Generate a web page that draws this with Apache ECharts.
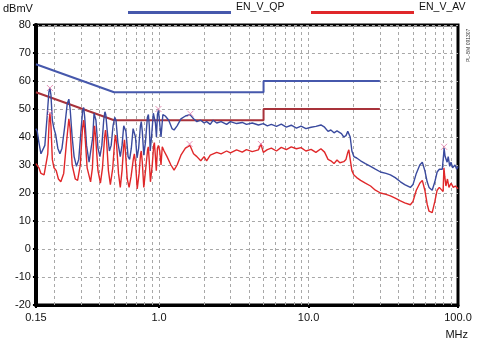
<!DOCTYPE html>
<html>
<head>
<meta charset="utf-8">
<script src="https://cdn.jsdelivr.net/npm/echarts@6/dist/echarts.min.js"></script>
<style>
    html, body { margin: 0; padding: 0; background: #fff; }
    #main { width: 477px; height: 351px; }
</style>
</head>
<body>
<div id="main"></div>
<script>
// 限值线 (EN, QP / AV)
var qpLimitFreq = [0.15, 0.5, 5, 5, 30]
var qpLimitLevel = [66, 56, 56, 60, 60]
var avLimitFreq = [0.15, 0.5, 5, 5, 30]
var avLimitLevel = [56, 46, 46, 50, 50]

// QP 测量曲线
var qpFreq = [0.150, 0.153, 0.157, 0.162, 0.167, 0.172, 0.178, 0.183, 0.186, 0.189, 0.193, 0.198, 0.203, 0.210, 0.217, 0.224,
    0.234, 0.243, 0.249, 0.254, 0.262, 0.270, 0.280, 0.290, 0.300, 0.308, 0.313, 0.318, 0.327, 0.340, 0.350, 0.360,
    0.367, 0.372, 0.378, 0.390, 0.402, 0.414, 0.426, 0.434, 0.440, 0.450, 0.465, 0.478, 0.492, 0.505, 0.515, 0.530,
    0.550, 0.565, 0.580, 0.590, 0.600, 0.620, 0.635, 0.652, 0.670, 0.682, 0.695, 0.712, 0.730, 0.750, 0.760, 0.772,
    0.790, 0.810, 0.835, 0.848, 0.860, 0.872, 0.890, 0.915, 0.930, 0.945, 0.960, 0.975, 0.990, 1.01, 1.03, 1.06,
    1.10, 1.16, 1.22, 1.26, 1.32, 1.40, 1.50, 1.61, 1.70, 1.79, 1.90, 2.00, 2.08, 2.20, 2.30, 2.43, 2.60, 2.83,
    3.0, 3.3, 3.6, 3.84, 4.2, 4.62, 4.98, 5.3, 5.64, 6.1, 6.57, 7.1, 7.66, 8.3, 8.91, 9.6, 10.4, 11.2, 12.1, 12.8,
    13.5, 14.1, 14.8, 15.5, 15.9, 16.6, 17.2, 17.8, 18.3, 18.6, 19.0, 19.5, 20.1, 21, 22.3, 24, 26, 28, 30.3, 33,
    35.3, 38, 41.2, 44, 48, 50, 52.6, 55.5, 57.7, 60, 62.2, 64, 67.2, 70, 72.5, 75, 77.1, 78.5, 80.2, 80.7,
    82, 84.6, 86, 88, 89.8, 92, 95.5, 98, 100]
var qpLevel = [43, 42, 38, 34, 33.5, 37, 47, 56, 57.5, 55, 46, 43, 41, 36, 34, 36,
    44, 52, 53.5, 50, 40, 33, 29.5, 32, 42, 49.5, 50.5, 47, 37, 31, 31, 40,
    48.5, 49, 46, 36, 33, 37, 46, 49, 48, 42, 35, 37, 44, 47, 46, 38,
    33, 37, 44, 44.5, 42, 33, 32, 36, 43, 43.5, 40, 32.5, 36, 44, 45.5, 42,
    33.5, 38, 47, 48, 44, 35, 40, 48.5, 49, 45, 40, 48, 49.5, 49, 40, 48,
    47.5, 46, 43, 42.5, 44, 46.5, 47.5, 48, 46.5, 45.5, 46, 45, 45.5, 44.5, 46, 45, 45.5, 44.5,
    45.5, 44.8, 45.2, 44.5, 45, 44.3, 44.8, 44, 44.5, 43.8, 44.6, 43.5, 44.2, 43.2, 43.9, 43, 43.5, 43.8, 44.3, 43.5,
    42, 42.5, 41.5, 42.2, 41.8, 41.2, 40, 40.5, 42, 42.3, 40, 35, 33, 32.5, 31.5, 30.5, 29.5, 28.5, 27.5, 27,
    26.5, 25.5, 24, 23, 22, 23, 27, 30, 31, 28, 24, 22, 21, 24, 27.5, 28.5, 28, 28.5, 34, 36,
    33, 31, 33, 29.5, 31, 29, 30, 28.5, 29.5]

// AV 测量曲线
var avFreq = [0.150, 0.153, 0.157, 0.162, 0.170, 0.175, 0.180, 0.184, 0.186, 0.189, 0.193, 0.198, 0.205, 0.212, 0.220, 0.230,
    0.240, 0.249, 0.254, 0.262, 0.275, 0.285, 0.297, 0.307, 0.313, 0.318, 0.330, 0.348, 0.358, 0.366, 0.370, 0.376,
    0.390, 0.405, 0.418, 0.432, 0.438, 0.445, 0.458, 0.472, 0.490, 0.505, 0.512, 0.520, 0.535, 0.550, 0.565, 0.580,
    0.587, 0.595, 0.612, 0.630, 0.650, 0.672, 0.683, 0.695, 0.714, 0.735, 0.752, 0.760, 0.772, 0.790, 0.815, 0.838,
    0.847, 0.858, 0.875, 0.900, 0.920, 0.930, 0.942, 0.958, 0.975, 0.99, 1.01, 1.03, 1.05, 1.08, 1.13, 1.20,
    1.26, 1.32, 1.40, 1.50, 1.61, 1.70, 1.79, 1.90, 2.00, 2.08, 2.2, 2.43, 2.6, 2.83, 3.0, 3.3, 3.6, 3.84,
    4.2, 4.62, 4.8, 4.98, 5.3, 5.64, 6.1, 6.57, 7.1, 7.66, 8.3, 8.91, 9.6, 10.4, 11.2, 12.1, 12.8, 13.5,
    14.1, 14.8, 15.5, 16.2, 17.2, 17.8, 18.3, 18.6, 19.0, 19.5, 20.1, 21, 22.3, 24, 26, 28, 30.3, 33,
    35.3, 38, 41.2, 44, 48, 50, 52.6, 55.5, 57.7, 60, 62.2, 64, 67.2, 70, 72.5, 75, 77.1, 79.5,
    80.5, 81.5, 83, 85, 87, 89.8, 93, 96, 100]
var avLevel = [30.5, 31, 29, 27, 26.5, 27, 34, 46, 48.5, 44, 32, 29, 28, 25, 24, 27,
    38, 46.5, 43, 30, 25, 24.5, 30, 43, 46, 42, 29, 24, 29, 41, 44, 40,
    28, 23.5, 29, 40, 42.5, 39, 28, 23, 29, 39, 40.7, 37, 27, 22, 28, 37,
    39, 35, 25, 22, 26, 32, 34, 31, 21.5, 27, 34, 35, 31, 22, 29, 35.5,
    36.5, 32, 24, 30, 37, 38, 34, 28, 36, 37, 35, 30, 36.5, 35, 33, 30,
    28.2, 30, 33.5, 36, 37, 34, 33, 31.5, 33, 31.5, 33.5, 34.5, 34, 35, 34.3, 35.4, 34.6, 35.5,
    34.8, 35.4, 37.5, 34.5, 35.5, 36, 35, 36.3, 35.5, 36.5, 35.8, 36.2, 35, 35.6, 34.5, 35.8, 34.6, 32,
    31.5, 30.5, 31.8, 30.8, 31.2, 32, 34.5, 35.4, 32, 28, 26.4, 25.5, 24.5, 23.5, 22.5, 21, 20, 19.5,
    19, 18.2, 17.2, 16.5, 15.8, 17, 21, 23.5, 24.5, 21, 16, 13.5, 13, 17, 21, 22, 21.5, 20.5,
    29, 26, 22.5, 25, 22, 23.5, 22, 22.5, 21.5]

// 峰值标记
var qpMarkFreq = [0.186, 0.99, 1.62, 80.7]
var qpMarkLevel = [57.5, 50, 48.3, 36.5]
var avMarkFreq = [0.186, 1.6, 4.8]
var avMarkLevel = [48.5, 37.5, 37.5]

// 坐标刻度
var xTicks = [0.15, 1, 10, 100]
var yTicks = [-20, -10, 0, 10, 20, 30, 40, 50, 60, 70, 80]
var gridFreqs = [0.2, 0.3, 0.4, 0.5, 0.6, 0.7, 0.8, 0.9, 1, 2, 3, 4, 5, 6, 7, 8, 9, 10,
    20, 30, 40, 50, 60, 70, 80, 90]

function pairs (xs, ys) {
    return xs.map(function (x, i) { return [x, ys[i]] })
}

var blue = '#3a4a9e'
var red = '#e0282a'
var qpLimitColor = '#4658ac'
var avLimitColor = '#a8323a'
var markColor = '#e07aa8'
var font = 'Liberation Sans, Arial, sans-serif'
// 图例图标: 线条画在图标框底部, 文字就显得偏上
var legendIcon = 'path://M0,0L0.01,0L0.01,0.01L0,0.01Z M0,11L103,11L103,14L0,14Z'

var myChart = echarts.init(document.getElementById('main'))
myChart.setOption({
    animation: false,
    textStyle: { fontFamily: font },
    grid: {
        left: 32,
        right: 19,
        top: 25,
        bottom: 46,
        show: true,
        borderColor: '#000',
        borderWidth: 3
    },
    legend: [
        {
            left: 128,
            top: 0,
            padding: 0,
            icon: legendIcon,
            itemWidth: 103,
            itemHeight: 14,
            selectedMode: false,
            textStyle: { fontSize: 10.5, color: '#111' },
            data: [{ name: 'EN_V_QP', itemStyle: { color: qpLimitColor } }]
        },
        {
            left: 311,
            top: 0,
            padding: 0,
            icon: legendIcon,
            itemWidth: 103,
            itemHeight: 14,
            selectedMode: false,
            textStyle: { fontSize: 10.5, color: '#111' },
            data: [{ name: 'EN_V_AV', itemStyle: { color: red } }]
        }
    ],
    xAxis: {
        type: 'log',
        logBase: 10,
        min: 0.15,
        max: 100,
        axisLine: { onZero: false, lineStyle: { color: '#000', width: 3 } },
        axisTick: { show: true, length: 3, inside: false, lineStyle: { color: '#000', width: 2 } },
        axisLabel: {
            margin: 7,
            fontSize: 11,
            color: '#111',
            formatter: function (v) {
                return v < 1 ? String(v) : Number(v).toFixed(1)
            }
        },
        splitLine: { show: false }
    },
    yAxis: {
        type: 'value',
        min: -20,
        max: 80,
        interval: 10,
        name: 'dBmV',
        nameGap: 11,
        nameTextStyle: { fontSize: 11, color: '#111', align: 'right', padding: [0, 3, 0, 0] },
        axisLine: { show: true, onZero: false, lineStyle: { color: '#000', width: 4 } },
        axisTick: { show: true, length: 3, lineStyle: { color: '#000', width: 2 } },
        axisLabel: { margin: 5, fontSize: 11, color: '#111' },
        splitLine: { show: true, lineStyle: { color: '#a8a8a8', type: [3, 3], width: 1 } }
    },
    graphic: [
        {
            type: 'text',
            right: 9,
            top: 329,
            style: { text: 'MHz', fontSize: 11, fill: '#111', fontFamily: font }
        },
        {
            type: 'text',
            x: 466,
            y: 62,
            rotation: Math.PI / 2,
            style: { text: 'PL-BM 091307', fontSize: 5, fill: '#333', fontFamily: font }
        }
    ],
    series: [
        {
            name: 'grid',
            type: 'line',
            data: [],
            silent: true,
            z: 1,
            markLine: {
                silent: true,
                z: 1,
                symbol: 'none',
                label: { show: false },
                lineStyle: { color: '#a8a8a8', type: [3, 3], width: 1 },
                data: gridFreqs.map(function (f) { return { xAxis: f } })
            }
        },
        {
            name: 'EN_V_QP',
            type: 'line',
            data: pairs(qpLimitFreq, qpLimitLevel),
            symbol: 'none',
            z: 3,
            lineStyle: { color: qpLimitColor, width: 2 },
            itemStyle: { color: qpLimitColor }
        },
        {
            name: 'EN_V_AV',
            type: 'line',
            data: pairs(avLimitFreq, avLimitLevel),
            symbol: 'none',
            z: 3,
            lineStyle: { color: avLimitColor, width: 2 },
            itemStyle: { color: red }
        },
        {
            name: 'QP',
            type: 'line',
            data: pairs(qpFreq, qpLevel),
            symbol: 'none',
            z: 4,
            lineStyle: { color: blue, width: 1.4 }
        },
        {
            name: 'AV',
            type: 'line',
            data: pairs(avFreq, avLevel),
            symbol: 'none',
            z: 4,
            lineStyle: { color: red, width: 1.4 }
        },
        {
            name: 'mark',
            type: 'scatter',
            data: pairs(qpMarkFreq, qpMarkLevel).concat(pairs(avMarkFreq, avMarkLevel)),
            symbol: 'path://M0,0L10,10M10,0L0,10',
            symbolSize: 6,
            z: 5,
            itemStyle: { color: 'none', borderColor: markColor, borderWidth: 1 }
        }
    ]
})
</script>
</body>
</html>
